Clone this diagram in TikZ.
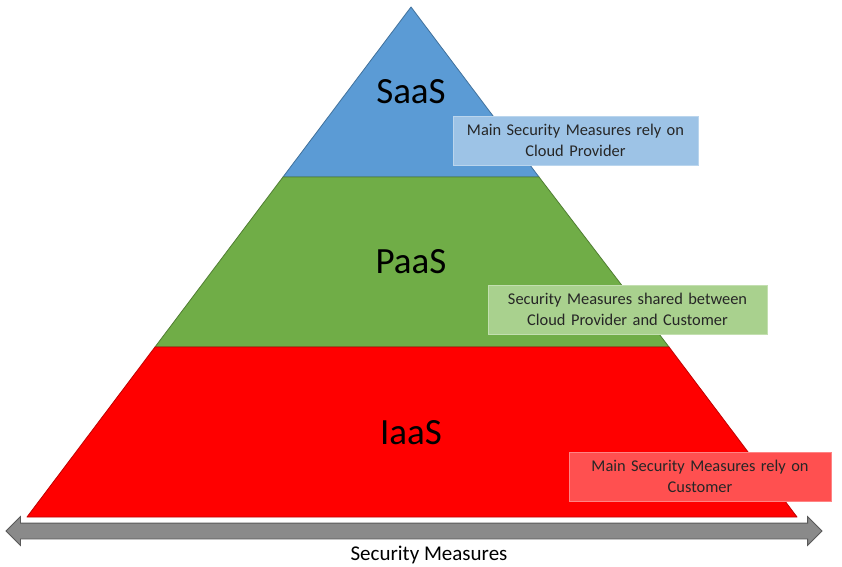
\documentclass[tikz,border=0pt]{standalone}
\usepackage{fontspec}
\setmainfont{Carlito}
\usepackage{tikz}
\usetikzlibrary{shapes.arrows, positioning, calc}
\definecolor{saasfill}{RGB}{91,155,213}
\definecolor{saasline}{RGB}{65,113,156}
\definecolor{paasfill}{RGB}{112,173,71}
\definecolor{paasline}{RGB}{80,126,50}
\definecolor{iaasfill}{RGB}{255,0,0}
\definecolor{iaasline}{RGB}{192,0,0}
\definecolor{saasnote}{RGB}{157,195,230}
\definecolor{paasnote}{RGB}{169,209,142}
\definecolor{iaasnote}{RGB}{255,80,80}
\definecolor{axisfill}{RGB}{138,138,138}
\definecolor{axisline}{RGB}{89,89,89}
\tikzset{
  layer/.style={line width=0.8pt, line join=round},
  tier/.style={font=\fontsize{37}{40}\selectfont, text=black},
  note/.style={
    rectangle, minimum width=#1, minimum height=49pt,
    text width=#1, align=center, inner sep=0pt,
    font=\fontsize{16.4}{21}\selectfont, text=black!85
  },
  axis/.style={
    double arrow, double arrow head extend=6.5pt,
    minimum width=28pt, minimum height=816pt,
    inner xsep=0pt, inner ysep=7.5pt,
    fill=axisfill, draw=axisline, line width=0.8pt
  }
}

\begin{document}
\begin{tikzpicture}[x=1pt, y=-1pt]
  \useasboundingbox (0,0) rectangle (842,566);

  % pyramid layers
  \filldraw[layer, fill=saasfill, draw=saasline]
    (411,7) -- (539,177) -- (283,177) -- cycle;
  \filldraw[layer, fill=paasfill, draw=paasline]
    (283,177) -- (539,177) -- (669,347) -- (155,347) -- cycle;
  \filldraw[layer, fill=iaasfill, draw=iaasline]
    (155,347) -- (669,347) -- (797,517) -- (27,517) -- cycle;

  \node[tier] (saas) at (411,92)  {SaaS};
  \node[tier] (paas) at (411,262) {PaaS};
  \node[tier] (iaas) at (411,433) {IaaS};

  % notes
  \node[note=245pt, fill=saasnote, draw=saasnote!70!white] (saasnote) at (575.5,140.5)
    {Main Security Measures rely on\\Cloud Provider};
  \node[note=279pt, fill=paasnote, draw=paasnote!70!white] (paasnote) at (627.5,309.5)
    {Security Measures shared between\\Cloud Provider and Customer};
  \node[note=262pt, fill=iaasnote, draw=iaasnote!70!white] (iaasnote) at (700,476.5)
    {Main Security Measures rely on\\Customer};

  % axis
  \node[axis] (measures) at (414,531) {};
  \node[font=\fontsize{21}{24}\selectfont, below=3pt of measures, xshift=15pt] (axislabel)
    {Security Measures};
\end{tikzpicture}
\end{document}
